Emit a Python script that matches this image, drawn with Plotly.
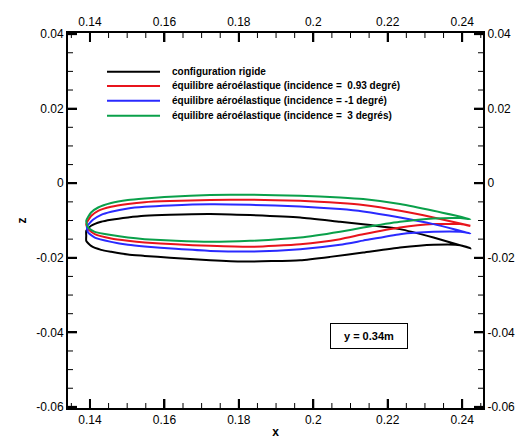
import math
import plotly.graph_objects as go

# ---------------- data ----------------
# each profile: upper surface from trailing edge to leading edge, then lower surface back to the trailing edge
rigide_x = [0.2422, 0.2323, 0.2233, 0.2134, 0.2072, 0.1965, 0.1830, 0.1723, 0.1615, 0.1547, 0.1502, 0.1457, 0.1430, 0.1403, 0.1390,
            0.1390, 0.1390, 0.1403, 0.1430, 0.1457, 0.1502, 0.1547, 0.1615, 0.1723, 0.1811, 0.1965, 0.2045, 0.2134, 0.2233, 0.2323, 0.2395, 0.2422]
rigide_z = [-0.01742, -0.01457, -0.01231, -0.01100, -0.01035, -0.00919, -0.00855, -0.00825, -0.00845, -0.00874, -0.00919, -0.00981, -0.01035, -0.01142, -0.01277,
            -0.01411, -0.01546, -0.01680, -0.01788, -0.01841, -0.01914, -0.01949, -0.02000, -0.02065, -0.02100, -0.02065, -0.01976, -0.01860, -0.01726, -0.01653, -0.01661, -0.01742]

inc093_x = [0.2422, 0.2323, 0.2233, 0.2134, 0.2072, 0.1965, 0.1830, 0.1723, 0.1615, 0.1547, 0.1502, 0.1457, 0.1422, 0.1403, 0.1390,
            0.1395, 0.1413, 0.1457, 0.1502, 0.1547, 0.1630, 0.1723, 0.1830, 0.1965, 0.2072, 0.2134, 0.2233, 0.2323, 0.2395, 0.2422]
inc093_z = [-0.01142, -0.00919, -0.00739, -0.00586, -0.00532, -0.00470, -0.00444, -0.00452, -0.00480, -0.00510, -0.00559, -0.00632, -0.00740, -0.00880, -0.01097,
            -0.01231, -0.01366, -0.01484, -0.01546, -0.01591, -0.01640, -0.01680, -0.01707, -0.01634, -0.01500, -0.01370, -0.01188, -0.01097, -0.01097, -0.01150]

incm1_x = [0.2422, 0.2323, 0.2233, 0.2134, 0.2072, 0.1965, 0.1830, 0.1723, 0.1615, 0.1547, 0.1502, 0.1457, 0.1430, 0.1408, 0.1392,
           0.1395, 0.1413, 0.1457, 0.1502, 0.1547, 0.1630, 0.1723, 0.1830, 0.1965, 0.2072, 0.2134, 0.2233, 0.2323, 0.2395, 0.2422]
incm1_z = [-0.01345, -0.01097, -0.00919, -0.00758, -0.00694, -0.00624, -0.00578, -0.00565, -0.00595, -0.00632, -0.00677, -0.00766, -0.00847, -0.00981, -0.01161,
           -0.01323, -0.01457, -0.01573, -0.01653, -0.01699, -0.01760, -0.01815, -0.01833, -0.01769, -0.01650, -0.01540, -0.01366, -0.01304, -0.01304, -0.01345]

inc3_x = [0.2422, 0.2323, 0.2233, 0.2134, 0.2072, 0.1965, 0.1830, 0.1723, 0.1615, 0.1547, 0.1502, 0.1457, 0.1422, 0.1403, 0.1390,
          0.1395, 0.1413, 0.1457, 0.1502, 0.1547, 0.1630, 0.1723, 0.1830, 0.1965, 0.2072, 0.2134, 0.2233, 0.2323, 0.2395, 0.2422]
inc3_z = [-0.00962, -0.00739, -0.00559, -0.00425, -0.00382, -0.00336, -0.00309, -0.00317, -0.00360, -0.00409, -0.00452, -0.00532, -0.00651, -0.00785, -0.01008,
          -0.01188, -0.01304, -0.01392, -0.01457, -0.01500, -0.01545, -0.01573, -0.01546, -0.01457, -0.01300, -0.01190, -0.01035, -0.00946, -0.00935, -0.00962]

noms = [
    "configuration rigide",
    "équilibre aéroélastique (incidence =\u00a0 0.93 degré)",
    "équilibre aéroélastique (incidence = -1 degré)",
    "équilibre aéroélastique (incidence =\u00a0 3 degrés)",
]
couleurs = ["#000000", "#e8141c", "#2a2aff", "#0aa04a"]

x_ticks = [0.14, 0.16, 0.18, 0.2, 0.22, 0.24]
x_ticktext = ["0.14", "0.16", "0.18", "0.2", "0.22", "0.24"]
z_ticks = [-0.06, -0.04, -0.02, 0, 0.02, 0.04]
z_ticktext = ["-0.06", "-0.04", "-0.02", "0", "0.02", "0.04"]
minor_step = 0.005

x_range = [0.1341, 0.2456]
z_range = [-0.0603, 0.0403]

label_coupe = "y = 0.34m"

# ---------------- figure ----------------
W, H = 523, 439
M = dict(l=68, r=40, t=33, b=31)
plot_w = W - M["l"] - M["r"]
plot_h = H - M["t"] - M["b"]
major_len, minor_len = 9, 5

profils = [(rigide_x, rigide_z), (inc093_x, inc093_z), (incm1_x, incm1_z), (inc3_x, inc3_z)]

fig = go.Figure()
for (xs, zs), nom, c in zip(profils, noms, couleurs):
    fig.add_trace(go.Scatter(
        x=xs, y=zs, mode="lines", name=nom,
        line=dict(color=c, width=2, shape="spline", smoothing=0.5),
        showlegend=False,
    ))

# inward tick marks on all four sides, built from the tick lists and axis ranges
def minor_values(rng):
    lo = math.ceil(rng[0] / minor_step - 1e-9)
    hi = math.floor(rng[1] / minor_step + 1e-9)
    return [round(k * minor_step, 6) for k in range(lo, hi + 1)]

def is_major(v, majors):
    return any(abs(v - m) < 1e-9 for m in majors)

dx_per_px = (x_range[1] - x_range[0]) / plot_w
dz_per_px = (z_range[1] - z_range[0]) / plot_h

tick_paths = {True: ([], []), False: ([], [])}
for v in minor_values(x_range):
    major = is_major(v, x_ticks)
    L = (major_len if major else minor_len) * dz_per_px
    tx, tz = tick_paths[major]
    tx += [v, v, None, v, v, None]
    tz += [z_range[0], z_range[0] + L, None, z_range[1], z_range[1] - L, None]
for v in minor_values(z_range):
    major = is_major(v, z_ticks)
    L = (major_len if major else minor_len) * dx_per_px
    tx, tz = tick_paths[major]
    tx += [x_range[0], x_range[0] + L, None, x_range[1], x_range[1] - L, None]
    tz += [v, v, None, v, v, None]

for major, (tx, tz) in tick_paths.items():
    fig.add_trace(go.Scatter(x=tx, y=tz, mode="lines", line=dict(color="black", width=2 if major else 1),
                             showlegend=False, hoverinfo="skip", connectgaps=False))

# empty trace anchoring the mirrored axes (top / right tick labels)
fig.add_trace(go.Scatter(x=[None], y=[None], xaxis="x2", yaxis="y2", showlegend=False, hoverinfo="skip"))

font_tick = dict(family="Liberation Sans, Arial, sans-serif", size=12, color="black")

def axis_style():
    return dict(showline=True, linecolor="black", linewidth=2, ticks="inside", ticklen=major_len,
                tickwidth=2, tickcolor="black", showgrid=False, zeroline=False, automargin=False,
                tickfont=font_tick)

title_font = dict(family="Liberation Sans, Arial", size=12, color="black")

fig.update_layout(
    width=W, height=H,
    margin=M,
    paper_bgcolor="white", plot_bgcolor="white",
    xaxis=dict(range=x_range, tickmode="array", tickvals=x_ticks, ticktext=x_ticktext,
               title=dict(text="<b>x</b>", font=title_font, standoff=5), **axis_style()),
    yaxis=dict(range=z_range, tickmode="array", tickvals=z_ticks, ticktext=z_ticktext,
               title=dict(text="<b>z</b>", font=title_font, standoff=7), **axis_style()),
    xaxis2=dict(range=x_range, overlaying="x", side="top", tickmode="array", tickvals=x_ticks,
                ticktext=x_ticktext, **axis_style()),
    yaxis2=dict(range=z_range, overlaying="y", side="right", tickmode="array", tickvals=z_ticks,
                ticktext=z_ticktext, **axis_style()),
    showlegend=False,
)

# legend drawn inside the frame (line samples + labels)
leg_y = [0.897, 0.859, 0.8195, 0.7795]
for nom, c, yy in zip(noms, couleurs, leg_y):
    fig.add_shape(type="line", xref="paper", yref="paper", x0=0.094, x1=0.2217, y0=yy, y1=yy,
                  line=dict(color=c, width=2))
    fig.add_annotation(xref="paper", yref="paper", x=0.2458, y=yy, xanchor="left", yanchor="middle",
                       text="<b>" + nom + "</b>", showarrow=False,
                       font=dict(family="Liberation Sans, Arial", size=10, color="black"))

fig.add_annotation(xref="paper", yref="paper", x=0.7253, y=0.1933, xanchor="center", yanchor="middle",
                   text="<b>" + label_coupe + "</b>", showarrow=False, width=74, height=22,
                   bordercolor="black", borderwidth=1, borderpad=1, bgcolor="white",
                   font=dict(family="Liberation Sans, Arial", size=11, color="black"))

fig.write_html("out.html", config={"displayModeBar": False},
               post_script="document.body.style.margin='0';document.body.style.padding='0';")
